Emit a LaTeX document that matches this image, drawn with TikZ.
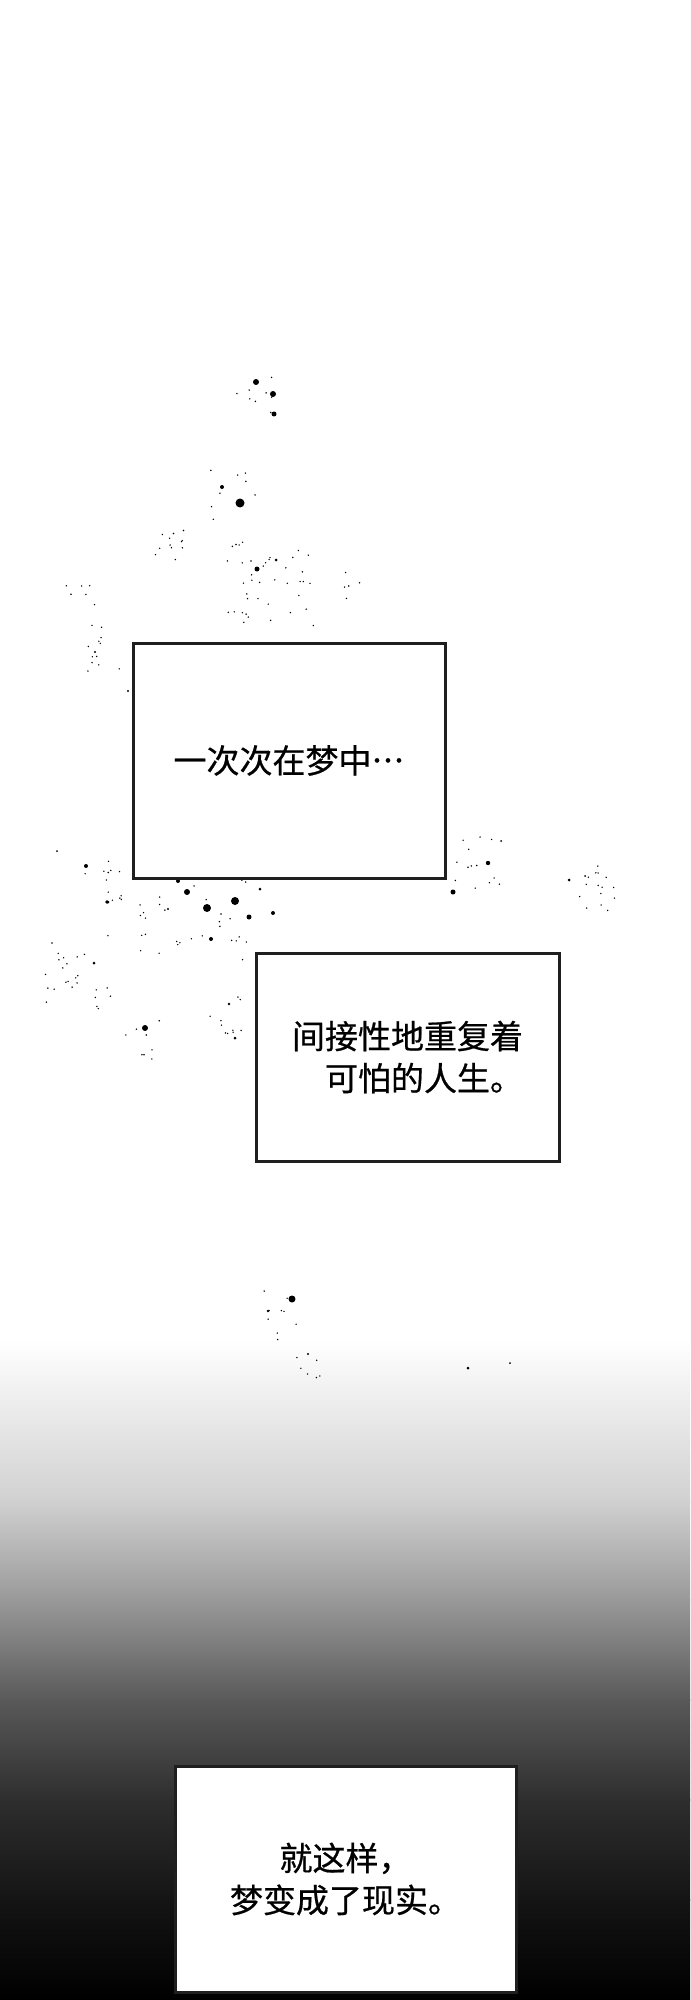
\documentclass[tikz,border=0pt]{standalone}
\usepackage{fontspec}
\newfontfamily\cjkfont[Script=CJK,Language=Chinese Simplified,FakeBold=0.6]{Noto Sans CJK SC}
\usepackage{tikz}
\usetikzlibrary{positioning}
\tikzset{
	comic page/.style={
		x=0.5pt,
		y=-0.5pt, % so that coordinates are pixels of the page, y going down
	},
	caption box/.style={
		rectangle,
		draw=black!88,
		line width=1.5pt,
		fill=white,
		inner sep=0pt,
		font=\cjkfont\fontsize{16.5pt}{21pt}\selectfont
	},
	speck/.style={
		fill=black
	}
}
\begin{document}
\begin{tikzpicture}[comic page]
	\useasboundingbox (0,0) rectangle (690,2000);
	% background: white, then fading to black at the bottom
	\fill[white] (0,0) rectangle (690,1340);
	\foreach \ya/\yb/\ca/\cb in {1340/1500/0/18,1500/1600/18/40,1600/1700/40/65,
		1700/1800/65/82,1800/1900/82/92,1900/2000/92/100} {
		\shade[top color=black!\ca,bottom color=black!\cb] (0,\ya-0.5) rectangle (690,\yb+0.5);
	}
	% ink spatters
	\foreach \bx/\by/\br in {256/382/3,273/394/3,274/414/2.5,240/503/4.5,222/487/2,
		257/569/2.5,276/560/1.5,207/908/4,235/901/4,187/892/3,249/917/2.5,211/939/2,
		273/913/2,178/881/2,107/902/1.8,260/889/1.5,168/909/1.2,488/863/2.2,453/892/2.5,
		569/880/1.5,585/876/1,501/841/1,86/866/2,108/902/1.5,94/963/1.5,145/1028/3,
		235/1038/1.5,229/1004/1.3,292/1299/3.5,268/1311/1.3,308/1354/1.2,468/1368/1.5,
		510/1363/1,95/652/1.2,128/691/1.2,57/851/1} {
		\fill[speck] (\bx,\by) circle (\br);
	}
	\pgfmathsetseed{4711}
	\foreach \cx/\cy/\cs/\cn in {255/395/20/8,235/495/25/8,270/585/45/40,170/545/15/12,
		95/650/25/12,80/600/15/6,195/905/55/40,100/880/25/12,470/860/30/15,590/890/25/15,
		75/970/40/25,230/1015/20/10,140/1040/20/8,280/1315/25/10,310/1370/15/6,345/585/15/5} {
		\foreach \k in {1,...,\cn} {
			\pgfmathsetmacro\dx{rand*\cs}
			\pgfmathsetmacro\dy{rand*\cs}
			\fill[speck] (\cx+\dx,\cy+\dy) circle (0.8);
		}
	}
	% captions
	\node[caption box,minimum width=156pt,minimum height=117.5pt] (againDream) at (289,760.5)
		{一次次在梦中{\addfontfeature{RawFeature=+fwid}…}};
	\node[caption box,minimum width=151.5pt,minimum height=104pt,align=right] (repeatLife) at (407.5,1057)
		{间接性地重复着\\可怕的人生。};
	\node[caption box,minimum width=170.5pt,minimum height=113pt,align=center] (dreamReal) at (345.5,1879)
		{就这样，\\梦变成了现实。};
\end{tikzpicture}
\end{document}
